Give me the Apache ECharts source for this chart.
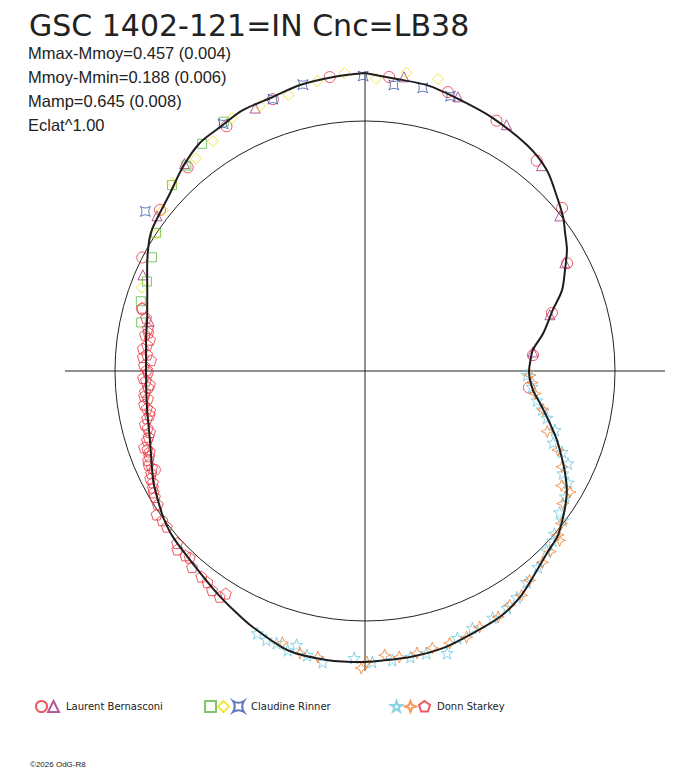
<!DOCTYPE html>
<html>
<head>
<meta charset="utf-8">
<script src="https://cdn.jsdelivr.net/npm/echarts@6/dist/echarts.min.js"></script>
<style>
html,body{margin:0;padding:0;background:#fff;}
#chart{width:688px;height:768px;}
</style>
</head>
<body>
<div id="chart"></div>
<script>
// ---- data: [phase, relative flux (mean circle = 1)] ----
const titleText = 'GSC 1402-121=IN Cnc=LB38';
const infoLines = ['Mmax-Mmoy=0.457 (0.004)', 'Mmoy-Mmin=0.188 (0.006)', 'Mamp=0.645 (0.008)', 'Eclat^1.00'];
const observers = ['Laurent Bernasconi', 'Claudine Rinner', 'Donn Starkey'];

const fitCurve = [
 [0.000,1.192],[0.015,1.176],[0.034,1.170],[0.054,1.149],[0.074,1.134],[0.099,1.112],[0.117,1.084],
 [0.133,1.036],[0.145,1.003],[0.154,0.972],[0.164,0.942],[0.174,0.902],[0.188,0.852],[0.200,0.790],
 [0.217,0.728],[0.230,0.677],[0.242,0.661],[0.250,0.656],[0.268,0.676],[0.279,0.712],[0.294,0.769],
 [0.305,0.816],[0.316,0.860],[0.325,0.898],[0.335,0.938],[0.345,0.968],[0.355,0.995],[0.363,1.015],
 [0.375,1.030],[0.391,1.063],[0.404,1.096],[0.420,1.122],[0.438,1.134],[0.456,1.151],[0.475,1.158],
 [0.493,1.161],[0.501,1.164],[0.521,1.166],[0.543,1.159],[0.566,1.118],[0.578,1.095],[0.594,1.067],
 [0.619,1.030],[0.637,1.015],[0.650,0.997],[0.663,0.973],[0.674,0.954],[0.701,0.903],[0.724,0.884],
 [0.749,0.876],[0.773,0.885],[0.789,0.898],[0.807,0.930],[0.821,0.966],[0.837,1.010],[0.845,1.025],
 [0.868,1.056],[0.884,1.094],[0.900,1.126],[0.915,1.135],[0.930,1.152],[0.948,1.156],[0.964,1.173],
 [0.983,1.183],[1.000,1.192]
];

const lbCircles = [
 [0.013,1.180],[0.046,1.164],[0.077,1.131],[0.109,1.086],[0.140,1.023],[0.172,0.916],[0.202,0.783],
 [0.235,0.675],[0.266,0.659],[0.981,1.184],[0.948,1.148],[0.918,1.125],[0.886,1.080],[0.856,1.043],
 [0.825,1.000],[0.680,0.929],[0.793,0.925]
];
const lbTriangles = [
 [0.021,1.187],[0.052,1.158],[0.083,1.136],[0.113,1.083],[0.143,0.996],[0.171,0.909],[0.203,0.773],
 [0.232,0.676],[0.937,1.140],[0.886,1.100],[0.852,1.038],[0.815,0.968],[0.786,0.886]
];
const crSquares = [
 [0.918,1.146],[0.901,1.118],[0.886,1.089],[0.872,1.072],[0.843,1.002],[0.828,0.966],[0.812,0.943],
 [0.798,0.939],[0.784,0.916]
];
const crDiamonds = [
 [0.006,1.169],[0.022,1.204],[0.039,1.204],[0.989,1.195],[0.974,1.175],[0.957,1.146],[0.940,1.140],
 [0.923,1.143],[0.907,1.103],[0.893,1.087],[0.873,1.075],[0.857,1.033],[0.842,1.000],[0.807,0.953]
];
const crAstroids = [
 [0.999,1.180],[0.016,1.150],[0.032,1.156],[0.048,1.151],[0.966,1.172],[0.948,1.148],[0.917,1.140],
 [0.850,1.086]
];
const dsStars = [
 [0.254,0.648],[0.265,0.671],[0.277,0.698],[0.284,0.725],[0.290,0.752],[0.298,0.796],[0.308,0.805],
 [0.312,0.852],[0.318,0.892],[0.326,0.891],[0.330,0.927],[0.339,0.946],[0.350,0.962],[0.353,0.991],
 [0.363,0.999],[0.367,1.011],[0.374,1.021],[0.385,1.046],[0.396,1.064],[0.406,1.090],[0.414,1.105],
 [0.424,1.111],[0.437,1.115],[0.447,1.130],[0.455,1.175],[0.466,1.155],[0.475,1.158],[0.485,1.161],
 [0.496,1.164],[0.506,1.149],[0.523,1.177],[0.532,1.160],[0.539,1.129],[0.543,1.159],[0.550,1.144],
 [0.556,1.145],[0.562,1.134]
];
const dsFourStars = [
 [0.254,0.660],[0.261,0.670],[0.271,0.686],[0.284,0.729],[0.301,0.768],[0.312,0.834],[0.322,0.876],
 [0.335,0.952],[0.344,0.952],[0.355,0.995],[0.362,1.013],[0.334,0.910],[0.364,1.032],[0.373,1.035],
 [0.381,1.044],[0.394,1.065],[0.403,1.094],[0.412,1.101],[0.421,1.119],[0.433,1.122],[0.442,1.140],
 [0.452,1.140],[0.462,1.140],[0.471,1.147],[0.481,1.152],[0.489,1.139],[0.499,1.164],[0.502,1.188],
 [0.526,1.160],[0.536,1.158],[0.547,1.136]
];
const dsPentagons = [
 [0.664,0.980],[0.659,0.986],[0.654,1.012],[0.649,1.007],[0.644,1.008],[0.632,1.019],[0.629,1.036],
 [0.623,1.030],[0.620,1.024],[0.615,1.046],[0.607,1.051],[0.602,1.054],[0.597,1.069],[0.589,1.050],
 [0.591,1.074],[0.781,0.885],[0.776,0.892],[0.773,0.869],[0.766,0.893],[0.762,0.874],[0.758,0.857],
 [0.754,0.884],[0.749,0.868],[0.743,0.877],[0.740,0.862],[0.735,0.884],[0.730,0.875],[0.726,0.894],
 [0.721,0.874],[0.716,0.892],[0.712,0.906],[0.706,0.894],[0.701,0.915],[0.697,0.935],[0.693,0.919],
 [0.688,0.938],[0.682,0.936],[0.676,0.961],[0.670,0.968],[0.794,0.927],[0.788,0.901],
 [0.778,0.880],[0.769,0.878],[0.760,0.890],[0.751,0.872],[0.745,0.888],[0.738,0.870],[0.732,0.889],
 [0.723,0.885],[0.718,0.879],[0.709,0.899],[0.703,0.905],[0.695,0.925],[0.690,0.928],[0.685,0.944],
 [0.679,0.948],[0.673,0.958],[0.667,0.975]
];

// ---- symbols ----
const SYM_STAR = 'path://M5 0 L6.18 3.38 L9.76 3.45 L6.9 5.62 L7.94 9.05 L5 7 L2.06 9.05 L3.1 5.62 L0.24 3.45 L3.82 3.38 Z';
const SYM_PENT = 'path://M5 0 L9.76 3.45 L7.94 9.05 L2.06 9.05 L0.24 3.45 Z';
const SYM_FOUR = 'path://M5 0 L6.4 3.6 L10 5 L6.4 6.4 L5 10 L3.6 6.4 L0 5 L3.6 3.6 Z';
const SYM_ASTR = 'path://M0 0 Q5 3.2 10 0 Q6.8 5 10 10 Q5 6.8 0 10 Q3.2 5 0 0 Z';

const center = [365, 371];
const FONT = '"Liberation Sans", Arial, sans-serif';
const WIDE_FONT = '"DejaVu Sans", "Liberation Sans", sans-serif';

const markerDefs = [
  {id:'LB1', data:lbCircles,   symbol:'circle',   size:11, color:'#e8303a', owner:0, legendLeft:35,  showText:false},
  {id:'LB2', data:lbTriangles, symbol:'triangle', size:10, color:'#a0307e', owner:0, legendLeft:47,  showText:true},
  {id:'CR1', data:crSquares,   symbol:'rect',     size:9,  color:'#5cb848', owner:1, legendLeft:204, showText:false},
  {id:'CR2', data:crDiamonds,  symbol:'diamond',  size:11, color:'#eee010', owner:1, legendLeft:217, showText:false},
  {id:'CR3', data:crAstroids,  symbol:SYM_ASTR,   size:10, color:'#3c58a8', owner:1, legendLeft:232, showText:true},
  {id:'DS1', data:dsStars,     symbol:SYM_STAR,   size:12, color:'#68c8e0', owner:2, legendLeft:390, showText:false},
  {id:'DS2', data:dsFourStars, symbol:SYM_FOUR,   size:12, color:'#f08030', owner:2, legendLeft:404, showText:false},
  {id:'DS3', data:dsPentagons, symbol:SYM_PENT,   size:11, color:'#e8303a', owner:2, legendLeft:418, showText:true}
];

const toPolar = arr => arr.map(p => [p[1], p[0]]); // [radius, angle]

const series = markerDefs.map(d => ({
  name: d.id,
  type: 'scatter',
  coordinateSystem: 'polar',
  polarIndex: 1,
  symbol: d.symbol,
  symbolSize: d.size,
  clip: false,
  itemStyle: {color: 'rgba(255,255,255,0)', borderColor: d.color, borderWidth: 1},
  data: toPolar(d.data),
  z: 2
}));
series.push({
  name: 'fit',
  type: 'line',
  coordinateSystem: 'polar',
  polarIndex: 1,
  symbol: 'none',
  smooth: 0.3,
  clip: false,
  lineStyle: {color: '#1e1e1e', width: 2},
  data: toPolar(fitCurve),
  z: 3
});

const legends = markerDefs.map(d => ({
  data: [d.id],
  left: d.legendLeft,
  top: 700,
  orient: 'horizontal',
  itemWidth: 11,
  itemHeight: 11,
  padding: 0,
  selectedMode: false,
  formatter: () => d.showText ? observers[d.owner] : '',
  textStyle: {fontSize: 10, color: '#222', fontFamily: WIDE_FONT, padding: [0,0,0,2]}
}));

const titles = [{
  text: titleText, left: 24, top: 5,
  textStyle: {fontSize: 30, fontWeight: 'normal', color: '#222', fontFamily: WIDE_FONT}
}];
infoLines.forEach((t, i) => titles.push({
  text: t, left: 23, top: 39 + i * 24.3,
  textStyle: {fontSize: 16.5, fontWeight: 'normal', color: '#222', fontFamily: FONT}
}));
titles.push({
  text: '©2026 OdG-R8', left: 25, top: 755,
  textStyle: {fontSize: 8, fontWeight: 'normal', color: '#222', fontFamily: FONT}
});

const chart = echarts.init(document.getElementById('chart'), null, {renderer: 'svg'});
chart.setOption({
  backgroundColor: '#fff',
  animation: false,
  title: titles,
  legend: legends,
  polar: [
    {center: center, radius: 250},
    {center: center, radius: 300}
  ],
  angleAxis: [
    {polarIndex: 0, type: 'value', min: 0, max: 1, startAngle: 90,
     axisLine: {show: true, lineStyle: {color: '#222', width: 1}},
     axisTick: {show: false}, axisLabel: {show: false}, splitLine: {show: false}},
    {polarIndex: 1, type: 'value', min: 0, max: 1, interval: 0.25, startAngle: 90, clockwise: true,
     axisLine: {show: false}, axisTick: {show: false}, axisLabel: {show: false},
     splitLine: {show: true, lineStyle: {color: '#222', width: 1}}}
  ],
  radiusAxis: [
    {polarIndex: 0, type: 'value', min: 0, max: 1, show: false},
    {polarIndex: 1, type: 'value', min: 0, max: 1.2,
     axisLine: {show: false}, axisTick: {show: false}, axisLabel: {show: false}, splitLine: {show: false}}
  ],
  series: series
});
</script>
</body>
</html>
